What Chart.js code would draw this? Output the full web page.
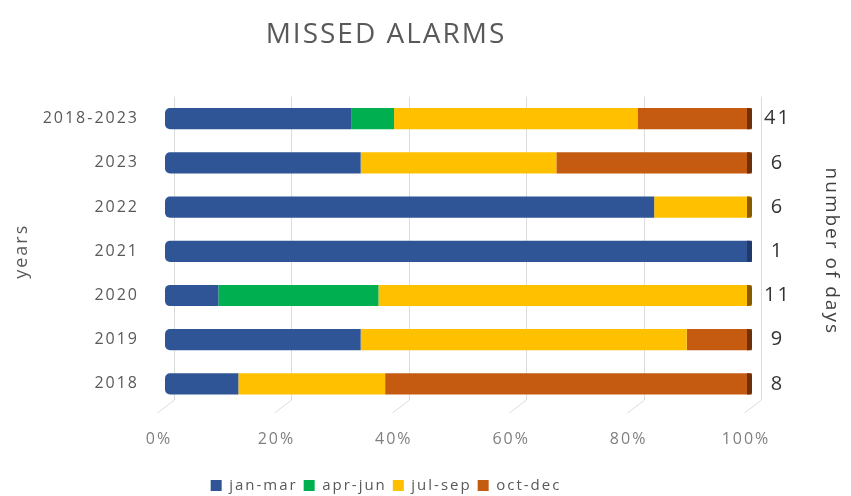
<!DOCTYPE html>
<html>
<head>
<meta charset="utf-8">
<title>Missed alarms</title>
<script src="https://cdn.jsdelivr.net/npm/chart.js@4"></script>
<style>
  html, body { margin: 0; padding: 0; background: #fff; }
  #wrap { width: 851px; height: 496px; }
</style>
</head>
<body>
<div id="wrap"><canvas id="alarmChart"></canvas></div>
<script>
// periods, top row first
const periods = ['2018-2023', '2023', '2022', '2021', '2020', '2019', '2018'];
// days with a missed alarm in each quarter
const janMar = [13, 2, 5, 1, 1, 3, 1];
const aprJun = [3, 0, 0, 0, 3, 0, 0];
const julSep = [17, 2, 1, 0, 7, 5, 2];
const octDec = [8, 2, 0, 0, 0, 1, 5];
// total days per row (right hand labels)
const days = [41, 6, 6, 1, 11, 9, 8];
const xTicks = [0, 20, 40, 60, 80, 100];

const share = arr => arr.map((v, i) => v / days[i] * 100);

// a bit of tracking on all text, the canvas resets it on resize
const spacing = {
    id: 'spacing',
    beforeLayout(chart) { chart.ctx.letterSpacing = '2px'; },
    beforeDraw(chart) { chart.ctx.letterSpacing = '2px'; }
};

// darker end face on the last visible segment of each bar
const barEnds = {
    id: 'barEnds',
    afterDatasetsDraw(chart) {
        const ctx = chart.ctx;
        const metas = chart.data.datasets.map((d, i) => chart.getDatasetMeta(i));
        periods.forEach((p, row) => {
            let last = null, color = null;
            metas.forEach((m, di) => {
                if (chart.data.datasets[di].data[row] > 0) {
                    last = m.data[row];
                    color = chart.data.datasets[di].edgeColor;
                }
            });
            if (!last) return;
            const h = last.height;
            ctx.save();
            ctx.fillStyle = color;
            ctx.beginPath();
            ctx.roundRect(last.x - 5, last.y - h / 2, 5, h, [0, 3, 3, 0]);
            ctx.fill();
            ctx.restore();
        });
    }
};

// grid drawn slightly set back, with a floor line under each tick
const depthGrid = {
    id: 'depthGrid',
    beforeDatasetsDraw(chart) {
        const ctx = chart.ctx;
        const xs = chart.scales.x;
        const area = chart.chartArea;
        ctx.save();
        ctx.strokeStyle = '#dcdcdc';
        ctx.lineWidth = 1;
        xTicks.forEach(t => {
            const x = Math.round(xs.getPixelForValue(t)) + 9.5;
            ctx.beginPath();
            ctx.moveTo(x, area.top);
            ctx.lineTo(x, area.bottom - 6);
            ctx.lineTo(x - 17, area.bottom + 7);
            ctx.stroke();
        });
        ctx.restore();
    }
};

new Chart(document.getElementById('alarmChart'), {
    type: 'bar',
    data: {
        labels: periods,
        datasets: [
            { label: 'jan-mar', data: share(janMar), backgroundColor: '#2F5597', edgeColor: '#1f3a6b',
              borderRadius: { topLeft: 5, bottomLeft: 5 }, borderSkipped: false },
            { label: 'apr-jun', data: share(aprJun), backgroundColor: '#00B050', edgeColor: '#007a37' },
            { label: 'jul-sep', data: share(julSep), backgroundColor: '#FFC000', edgeColor: '#8a5a00' },
            { label: 'oct-dec', data: share(octDec), backgroundColor: '#C55A11', edgeColor: '#6e3007' }
        ]
    },
    options: {
        indexAxis: 'y',
        responsive: true,
        maintainAspectRatio: false,
        animation: false,
        // lopsided padding keeps title and legend a little left of centre
        layout: { padding: { left: -20, right: 59, top: 0, bottom: -7 } },
        datasets: {
            bar: { categoryPercentage: 0.48, barPercentage: 1 }
        },
        scales: {
            x: {
                stacked: true,
                min: 0,
                max: 100,
                afterBuildTicks: s => { s.ticks = xTicks.map(v => ({ value: v })); },
                ticks: {
                    callback: v => v + '%',
                    color: '#7f7f7f',
                    font: { family: 'Open Sans', size: 16 },
                    padding: 24,
                    labelOffset: -6
                },
                grid: { display: false, drawTicks: false },
                border: { display: false },
                afterFit: s => { s.height = 66; }
            },
            y: {
                stacked: true,
                ticks: {
                    color: '#595959',
                    font: { family: 'Open Sans', size: 16 },
                    padding: 26
                },
                grid: { display: false, drawTicks: false },
                border: { display: false },
                title: {
                    display: true,
                    text: 'years',
                    color: '#595959',
                    font: { family: 'Open Sans', size: 18 },
                    padding: { top: 31, bottom: 0 }
                },
                afterFit: s => { s.width = 185; }
            },
            y2: {
                type: 'category',
                position: 'right',
                labels: days.map(String),
                offset: true,
                ticks: {
                    color: '#333333',
                    crossAlign: 'center',
                    font: { family: 'Open Sans', size: 20 },
                    padding: 12
                },
                grid: { display: false, drawTicks: false },
                border: { display: false },
                title: {
                    display: true,
                    text: 'number of days',
                    color: '#404040',
                    font: { family: 'Open Sans', size: 19 },
                    padding: { top: -51, bottom: 0 }
                },
                afterFit: s => { s.width = 40; }
            }
        },
        plugins: {
            title: {
                display: true,
                text: 'MISSED ALARMS',
                color: '#595959',
                font: { family: 'Open Sans', size: 28, weight: 'normal' },
                padding: { top: 18, bottom: 45 }
            },
            legend: {
                position: 'bottom',
                labels: {
                    color: '#595959',
                    font: { family: 'Open Sans', size: 15 },
                    boxWidth: 11,
                    boxHeight: 11,
                    padding: 6
                }
            },
            tooltip: { enabled: false }
        }
    },
    plugins: [spacing, depthGrid, barEnds]
});
</script>
</body>
</html>
